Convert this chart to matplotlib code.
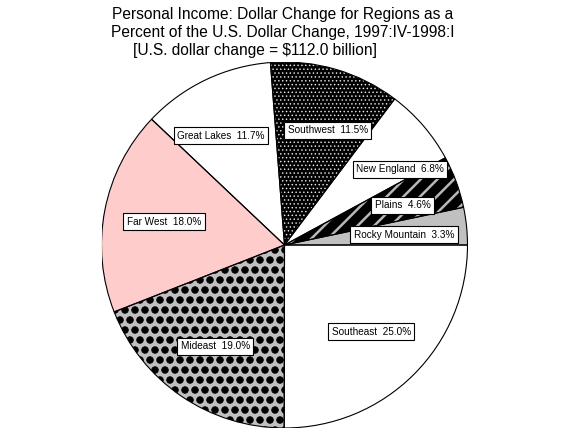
import matplotlib
matplotlib.use('Agg')
import matplotlib.pyplot as plt
import matplotlib.hatch as mhatch
import matplotlib.patches as mpatches
import numpy as np

# ---------------- data ----------------
regions = ['Rocky Mountain', 'Plains', 'New England', 'Southwest',
           'Great Lakes', 'Far West', 'Mideast', 'Southeast']
shares = [3.3, 4.6, 6.8, 11.5, 11.7, 18.0, 19.0, 25.0]

title_lines = ['Personal Income: Dollar Change for Regions as a',
               'Percent of the U.S. Dollar Change, 1997:IV-1998:I']
subtitle = '[U.S. dollar change = $112.0 billion]'

# ---------------- styles ----------------
face_colors = ['#c0c0c0', '#000000', '#ffffff', '#000000',
               '#ffffff', '#ffcccc', '#c0c0c0', '#ffffff']
hatch_styles = [None, '//', None, '.', None, None, 'o', None]
hatch_colors = [None, '#b8b8b8', None, '#ffffff', None, None, '#000000', None]
hatch_widths = [None, 1.8, None, 0.2, None, None, 0.6, None]
# label placement tweaks (radial fraction, angular shift in degrees)
label_dist = [0.655, 0.68, 0.755, 0.67, 0.69, 0.67, 0.67, 0.67]
label_shift = [-1.1, -1.6, -7.4, -4.3, 4.6, 0.0, 0.0, 0.0]


# custom dot textures (filled dots); rows must be even
class FineDots(mhatch.Circles):
    size = 0.16
    filled = True

    def __init__(self, hatch, density):
        self.num_rows = hatch.count('.') * 26
        super().__init__(hatch, density)


class BigDots(mhatch.Circles):
    size = 0.33
    filled = True

    def __init__(self, hatch, density):
        self.num_rows = hatch.count('o') * 10
        super().__init__(hatch, density)


mhatch._hatch_types[:] = [t for t in mhatch._hatch_types
                          if t not in (mhatch.SmallCircles, mhatch.SmallFilledCircles)] + [FineDots, BigDots]

FONT = ['Liberation Sans', 'DejaVu Sans']
plt.rcParams['font.family'] = FONT

W, H = 570, 434
fig = plt.figure(figsize=(W / 100, H / 100), dpi=100)
fig.patch.set_facecolor('white')

cx, cy, R = 284.5, 245.0, 183.0
ax = fig.add_axes([(cx - R) / W, (H - cy - R) / H, 2 * R / W, 2 * R / H])

wedges, _ = ax.pie(shares, colors=face_colors, startangle=0, counterclock=True,
                   radius=1, center=(0, 0), frame=False,
                   wedgeprops=dict(linewidth=0, edgecolor='none'))
ax.set_xlim(-1, 1)
ax.set_ylim(-1, 1)
ax.set_aspect('auto')
ax.axis('off')

for w, h, hc, hw in zip(wedges, hatch_styles, hatch_colors, hatch_widths):
    if h:
        p = mpatches.Wedge(w.center, w.r, w.theta1, w.theta2, facecolor='none',
                           edgecolor=hc, linewidth=0, hatch=h)
        if hasattr(p, 'set_hatch_linewidth'):
            p.set_hatch_linewidth(hw)
        ax.add_patch(p)

for w in wedges:
    ax.add_patch(mpatches.Wedge(w.center, w.r, w.theta1, w.theta2, facecolor='none',
                                edgecolor='black', linewidth=0.8))

for w, name, val, d, s in zip(wedges, regions, shares, label_dist, label_shift):
    mid = np.deg2rad((w.theta1 + w.theta2) / 2 + s)
    ax.text(d * np.cos(mid), d * np.sin(mid), f'{name}  {val:.1f}%', fontsize=7.2,
            ha='center', va='center', zorder=5,
            bbox=dict(boxstyle='square,pad=0.35', fc='white', ec='black', lw=0.8))

fs = 11.2
fig.text(283 / W, 1 - 19 / H, title_lines[0], ha='center', va='baseline', fontsize=fs)
fig.text(283 / W, 1 - 37 / H, title_lines[1], ha='center', va='baseline', fontsize=fs)
fig.text(255 / W, 1 - 55 / H, subtitle, ha='center', va='baseline', fontsize=fs)

fig.savefig('out.png', dpi=100)
